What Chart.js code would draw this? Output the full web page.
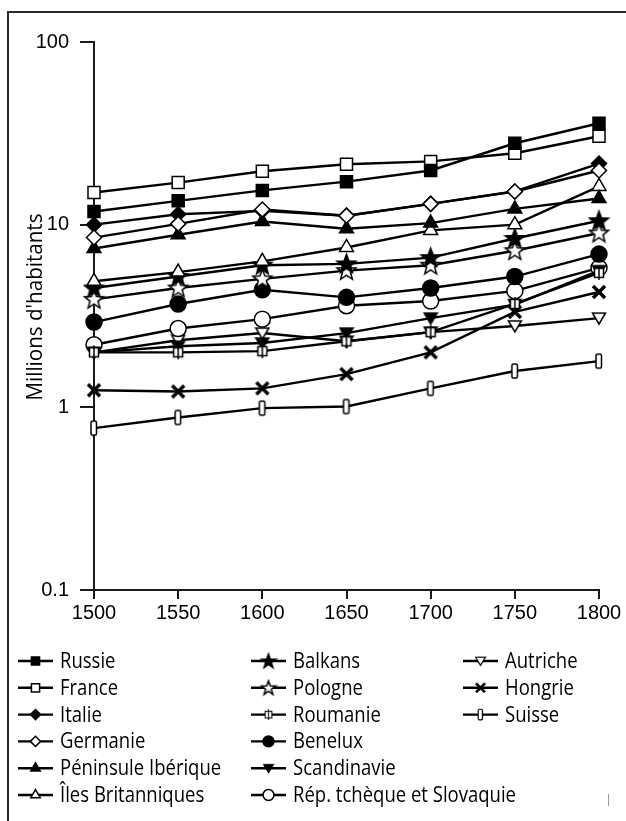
<!DOCTYPE html>
<html>
<head>
<meta charset="utf-8">
<script src="https://cdn.jsdelivr.net/npm/chart.js@4.4.1/dist/chart.umd.min.js"></script>
<style>
  html, body { margin: 0; padding: 0; background: #fff; }
</style>
</head>
<body>
<canvas id="chart" width="626" height="821"></canvas>
<script>
const years = ['1500', '1550', '1600', '1650', '1700', '1750', '1800'];
const yTicks = [0.1, 1, 10, 100];

const russie = [11.8, 13.5, 15.4, 17.2, 19.8, 27.9, 35.9];
const france = [15.0, 17.0, 19.6, 21.4, 22.2, 24.6, 30.5];
const italie = [10.0, 11.4, 11.9, 11.2, 13.0, 15.2, 21.6];
const germanie = [8.5, 10.1, 12.1, 11.2, 13.0, 15.2, 19.8];
const peninsule = [7.4, 8.8, 10.4, 9.5, 10.2, 12.2, 13.9];
const iles = [4.9, 5.5, 6.3, 7.5, 9.3, 10.0, 16.2];
const balkans = [4.5, 5.2, 6.0, 6.1, 6.6, 8.4, 10.5];
const pologne = [3.9, 4.5, 5.05, 5.6, 6.0, 7.2, 9.0];
const roumanie = [2.0, 2.0, 2.03, 2.3, 2.58, 3.68, 5.45];
const benelux = [2.93, 3.68, 4.4, 4.0, 4.5, 5.2, 6.9];
const scandinavie = [2.0, 2.16, 2.25, 2.55, 3.08, 3.65, 5.6];
const tcheque = [2.2, 2.7, 3.04, 3.6, 3.82, 4.34, 5.8];
const autriche = [2.0, 2.33, 2.55, 2.3, 2.58, 2.79, 3.08];
const hongrie = [1.24, 1.22, 1.27, 1.52, 2.0, 3.33, 4.28];
const suisse = [0.77, 0.88, 0.99, 1.01, 1.27, 1.58, 1.79];

// little canvases for the marker shapes chart.js doesn't have
function marker(w, h, draw) {
  const c = document.createElement('canvas');
  c.width = w;
  c.height = h;
  const g = c.getContext('2d');
  g.strokeStyle = '#000';
  g.lineWidth = 1.5;
  draw(g);
  return c;
}

function star(filled, r1, r2) {
  const s = Math.ceil(r1 * 2 + 3);
  return marker(s, s, g => {
    g.beginPath();
    for (let i = 0; i < 10; i++) {
      const r = i % 2 ? r2 : r1;
      const a = -Math.PI / 2 + i * Math.PI / 5;
      g.lineTo(s / 2 + r * Math.cos(a), s / 2 + 0.5 + r * Math.sin(a));
    }
    g.closePath();
    g.fillStyle = filled ? '#000' : '#fff';
    g.fill();
    g.stroke();
  });
}

function downTriangle(filled) {
  return marker(16, 16, g => {
    g.beginPath();
    g.moveTo(1.5, 3);
    g.lineTo(14.5, 3);
    g.lineTo(8, 14);
    g.closePath();
    g.fillStyle = filled ? '#000' : '#fff';
    g.fill();
    g.stroke();
  });
}

const roumanieMark = marker(16, 16, g => {
  g.fillStyle = '#fff';
  g.fillRect(3.5, 3.5, 9, 9);
  g.strokeRect(3.5, 3.5, 9, 9);
  g.beginPath();
  g.moveTo(8, 1);
  g.lineTo(8, 15);
  g.stroke();
});

const hongrieMark = marker(16, 16, g => {
  g.lineWidth = 3.5;
  g.beginPath();
  g.moveTo(2, 2);
  g.lineTo(14, 14);
  g.moveTo(14, 2);
  g.lineTo(2, 14);
  g.stroke();
});

const suisseMark = marker(10, 18, g => {
  g.fillStyle = '#fff';
  g.beginPath();
  g.roundRect(2, 2, 5.5, 14, 1.5);
  g.fill();
  g.stroke();
});

function series(label, data, pointStyle, radius, fill, order) {
  return {
    label: label,
    data: data,
    order: order || 0,
    borderColor: '#000',
    borderWidth: 2.4,
    pointStyle: pointStyle,
    pointRadius: radius,
    pointBorderWidth: 1.5,
    pointBorderColor: '#000',
    pointBackgroundColor: fill,
    backgroundColor: fill,
    fill: false,
    tension: 0,
  };
}

const datasets = [
  series('Russie', russie, 'rect', 8.5, '#000'),
  series('France', france, 'rect', 8.5, '#fff'),
  series('Italie', italie, 'rectRot', 7.5, '#000', 1),
  series('Germanie', germanie, 'rectRot', 7.5, '#fff'),
  series('Péninsule Ibérique', peninsule, 'triangle', 8, '#000'),
  series('Îles Britanniques', iles, 'triangle', 8, '#fff'),
  series('Balkans', balkans, star(true, 10, 4.2), 10, '#000'),
  series('Pologne', pologne, star(false, 10, 4.2), 10, '#fff'),
  series('Roumanie', roumanie, roumanieMark, 8, '#fff'),
  series('Benelux', benelux, 'circle', 8, '#000'),
  series('Scandinavie', scandinavie, downTriangle(true), 8, '#000'),
  series('Rép. tchèque et Slovaquie', tcheque, 'circle', 8, '#fff'),
  series('Autriche', autriche, downTriangle(false), 8, '#fff'),
  series('Hongrie', hongrie, hongrieMark, 8, '#000'),
  series('Suisse', suisse, suisseMark, 8, '#fff'),
];

// smaller marks for the legend
const legendMarks = {
  Balkans: star(true, 7.5, 3),
  Pologne: star(false, 7.5, 3),
};

const legendFont = '21px "Open Sans"';
const legendCols = [18, 251, 463];
const legendTop = 661;
const legendStep = 26.8;

// frame, y title and the three-column legend
const decor = {
  id: 'decor',
  beforeDraw(chart) {
    const ctx = chart.ctx;
    ctx.save();
    ctx.strokeStyle = '#2b2b2b';
    ctx.lineWidth = 2;
    ctx.beginPath();
    ctx.moveTo(8, 821);
    ctx.lineTo(8, 12);
    ctx.lineTo(626, 12);
    ctx.stroke();
    ctx.strokeStyle = '#999';
    ctx.lineWidth = 1;
    ctx.beginPath();
    ctx.moveTo(608.5, 794);
    ctx.lineTo(608.5, 806);
    ctx.stroke();
    ctx.restore();
  },
  afterDraw(chart) {
    const ctx = chart.ctx;
    ctx.save();
    ctx.font = legendFont;
    ctx.fillStyle = '#000';
    const sx = 223 / ctx.measureText('Rép. tchèque et Slovaquie').width;
    const title = "Millions d'habitants";
    const tx = 187 / ctx.measureText(title).width;

    // y axis title
    ctx.save();
    ctx.translate(36, 307);
    ctx.rotate(-Math.PI / 2);
    ctx.scale(tx, 1);
    ctx.textAlign = 'center';
    ctx.textBaseline = 'middle';
    ctx.fillText(title, 0, 0);
    ctx.restore();

    chart.data.datasets.forEach((ds, i) => {
      const x = legendCols[Math.floor(i / 6)];
      const y = legendTop + (i % 6) * legendStep;
      ctx.strokeStyle = '#000';
      ctx.lineWidth = 2.4;
      ctx.beginPath();
      ctx.moveTo(x, y);
      ctx.lineTo(x + 35, y);
      ctx.stroke();
      ctx.fillStyle = ds.pointBackgroundColor;
      ctx.lineWidth = 1.5;
      const style = legendMarks[ds.label] || ds.pointStyle;
      if (typeof style === 'string') {
        Chart.helpers.drawPoint(ctx, {
          pointStyle: style,
          radius: ds.pointRadius * 0.68,
          borderWidth: 1.5,
          rotation: 0,
        }, x + 17.5, y);
      } else {
        const w = style.width * (legendMarks[ds.label] ? 1 : 0.75);
        const h = style.height * (legendMarks[ds.label] ? 1 : 0.75);
        ctx.drawImage(style, x + 17.5 - w / 2, y - h / 2, w, h);
      }
      ctx.save();
      ctx.translate(x + 42, y + 1);
      ctx.scale(sx, 1);
      ctx.fillStyle = '#000';
      ctx.textAlign = 'left';
      ctx.textBaseline = 'middle';
      ctx.fillText(ds.label, 0, 0);
      ctx.restore();
    });
    ctx.restore();
  },
};

const ctx = document.getElementById('chart').getContext('2d');

new Chart(ctx, {
  type: 'line',
  data: {
    labels: years,
    datasets: datasets,
  },
  options: {
    responsive: false,
    animation: false,
    layout: {
      padding: { left: 0, right: 27, top: 42, bottom: 201 },
    },
    scales: {
      x: {
        type: 'category',
        offset: false,
        afterFit: s => { s.height = 30; },
        border: { display: true, color: '#1a1a1a', width: 2 },
        grid: {
          drawOnChartArea: false,
          drawTicks: true,
          tickLength: 9,
          color: '#1a1a1a',
          lineWidth: 2,
        },
        ticks: {
          color: '#000',
          padding: 2,
          maxRotation: 0,
          font: { family: 'Liberation Sans', size: 20 },
        },
      },
      y: {
        type: 'logarithmic',
        min: 0.1,
        max: 100,
        afterFit: s => { s.width = 94; },
        afterBuildTicks: s => {
          s.ticks = yTicks.map(v => ({ value: v }));
        },
        border: { display: true, color: '#1a1a1a', width: 2 },
        grid: {
          drawOnChartArea: false,
          drawTicks: true,
          tickLength: 14,
          color: '#1a1a1a',
          lineWidth: 2,
        },
        ticks: {
          color: '#000',
          padding: 11,
          font: { family: 'Liberation Sans', size: 20 },
          callback: v => String(v),
        },
      },
    },
    plugins: {
      legend: { display: false },
      tooltip: { enabled: false },
    },
  },
  plugins: [decor],
});
</script>
</body>
</html>
